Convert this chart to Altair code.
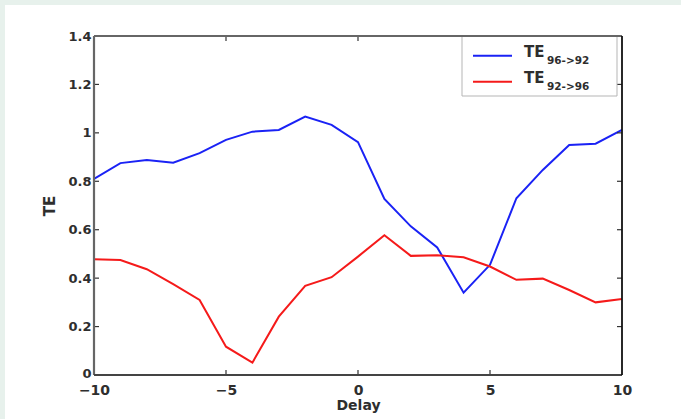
import altair as alt
import pandas as pd

# Transfer entropy versus delay for the two directions
delays = list(range(-10, 11))
te_96_92 = [0.81, 0.875, 0.888, 0.877, 0.916, 0.971, 1.005, 1.012, 1.067, 1.033,
            0.962, 0.727, 0.614, 0.527, 0.34, 0.455, 0.73, 0.847, 0.95, 0.955, 1.012]
te_92_96 = [0.478, 0.475, 0.437, 0.375, 0.31, 0.117, 0.051, 0.241, 0.368, 0.404,
            0.489, 0.577, 0.492, 0.495, 0.486, 0.448, 0.393, 0.398, 0.351, 0.30, 0.314]

series_keys = ["96->92", "92->96"]
series_colors = ["#1a22f5", "#f51a1a"]

x_ticks = [-10, -5, 0, 5, 10]
y_ticks = [0, 0.2, 0.4, 0.6, 0.8, 1.0, 1.2, 1.4]
x_inner_ticks = [-5, 0, 5]
y_inner_ticks = [0.2, 0.4, 0.6, 0.8, 1.0, 1.2]

W, H = 528, 339
PAD = {"left": 94, "top": 36, "right": 59, "bottom": 44}
FONT = "DejaVu Sans"
TXT = "#2e2e2e"
BAND = "#e7f1ec"

rows = []
for key, vals in zip(series_keys, [te_96_92, te_92_96]):
    for d, v in zip(delays, vals):
        rows.append({"delay": d, "te": v, "series": key})
df = pd.DataFrame(rows)

x_scale = alt.Scale(domain=[-10, 10], nice=False, zero=False)
y_scale = alt.Scale(domain=[0, 1.4], nice=False)
color_scale = alt.Scale(domain=series_keys, range=series_colors)

one = pd.DataFrame({"k": [0]})

# light page band along the top and left edges
band_top = alt.Chart(one).mark_rect(color=BAND).encode(
    x=alt.value(-PAD["left"]), x2=alt.value(W + PAD["right"]),
    y=alt.value(-PAD["top"]), y2=alt.value(-PAD["top"] + 5))
band_left = alt.Chart(one).mark_rect(color=BAND).encode(
    x=alt.value(-PAD["left"]), x2=alt.value(-PAD["left"] + 5),
    y=alt.value(-PAD["top"]), y2=alt.value(H + PAD["bottom"]))

lines = alt.Chart(df).mark_line(strokeWidth=2, clip=True).encode(
    x=alt.X("delay:Q", scale=x_scale,
            axis=alt.Axis(values=x_ticks, title="Delay", grid=False, ticks=False,
                          tickSize=0, domain=False, labelPadding=8, labelFlush=False,
                          labelFontSize=14, labelFont=FONT, labelFontWeight="bold",
                          labelColor=TXT,
                          titleFont=FONT, titleFontSize=14, titleFontWeight="bold",
                          titleColor=TXT, titlePadding=1, zindex=1)),
    y=alt.Y("te:Q", scale=y_scale,
            axis=alt.Axis(values=y_ticks, format="~g", title="TE", grid=False,
                          ticks=False, tickSize=0, domain=False, labelPadding=3,
                          labelFlush=False,
                          labelOffset={"condition": {"test": "datum.value == 0", "value": -2},
                                       "value": 0},
                          labelFontSize=13, labelFont=FONT, labelFontWeight="bold",
                          labelColor=TXT,
                          titleFont=FONT, titleFontSize=15, titleFontWeight="bold",
                          titleColor=TXT, titlePadding=10, zindex=1)),
    color=alt.Color("series:N", scale=color_scale, legend=None),
    detail="series:N",
)

# inward tick marks on all four sides
xt = pd.DataFrame({"v": x_inner_ticks})
yt = pd.DataFrame({"v": y_inner_ticks})
tick_style = dict(color="#333", strokeWidth=1.2)
ticks_bottom = alt.Chart(xt).mark_rule(**tick_style).encode(
    x=alt.X("v:Q", scale=x_scale), y=alt.value(H), y2=alt.value(H - 5))
ticks_top = alt.Chart(xt).mark_rule(**tick_style).encode(
    x=alt.X("v:Q", scale=x_scale), y=alt.value(0), y2=alt.value(5))
ticks_left = alt.Chart(yt).mark_rule(**tick_style).encode(
    y=alt.Y("v:Q", scale=y_scale), x=alt.value(0), x2=alt.value(5))
ticks_right = alt.Chart(yt).mark_rule(**tick_style).encode(
    y=alt.Y("v:Q", scale=y_scale), x=alt.value(W), x2=alt.value(W - 5))

# axes box
frame_top = alt.Chart(one).mark_rule(color="#666", strokeWidth=2).encode(
    x=alt.value(0), x2=alt.value(W), y=alt.value(0))
frame_left = alt.Chart(one).mark_rule(color="#666", strokeWidth=2.2).encode(
    x=alt.value(0), y=alt.value(0), y2=alt.value(H))
frame_bottom = alt.Chart(one).mark_rule(color="#444", strokeWidth=2).encode(
    x=alt.value(0), x2=alt.value(W), y=alt.value(H))
frame_right = alt.Chart(one).mark_rule(color="#111", strokeWidth=1.8).encode(
    x=alt.value(W), y=alt.value(0), y2=alt.value(H))

# legend box in the upper right corner
legend_box = alt.Chart(one).mark_rect(fill="white", stroke="#b5b5b5", strokeWidth=1).encode(
    x=alt.value(368), x2=alt.value(523), y=alt.value(0), y2=alt.value(60))

leg_layers = []
for i, (key, col) in enumerate(zip(series_keys, series_colors)):
    y_line = 19.7 + 26 * i
    leg_layers.append(alt.Chart(one).mark_rule(color=col, strokeWidth=2).encode(
        x=alt.value(379), x2=alt.value(418), y=alt.value(y_line)))
    leg_layers.append(alt.Chart(one).mark_text(
        text="TE", font=FONT, fontSize=15, fontWeight="bold", align="left",
        baseline="alphabetic", color=TXT).encode(x=alt.value(430), y=alt.value(y_line + 1)))
    leg_layers.append(alt.Chart(one).mark_text(
        text=key, font=FONT, fontSize=10.5, fontWeight="bold", align="left",
        baseline="alphabetic", color=TXT).encode(x=alt.value(453), y=alt.value(y_line + 8)))

chart = alt.layer(
    band_top, band_left, lines,
    ticks_bottom, ticks_top, ticks_left, ticks_right,
    legend_box, *leg_layers,
    frame_top, frame_left, frame_bottom, frame_right,
).properties(
    width=W, height=H, padding=PAD,
    autosize=alt.AutoSizeParams(type="none"),
    background="white",
).configure_view(stroke=None)

chart.save("out.html", embed_options={"renderer": "svg", "actions": False})
